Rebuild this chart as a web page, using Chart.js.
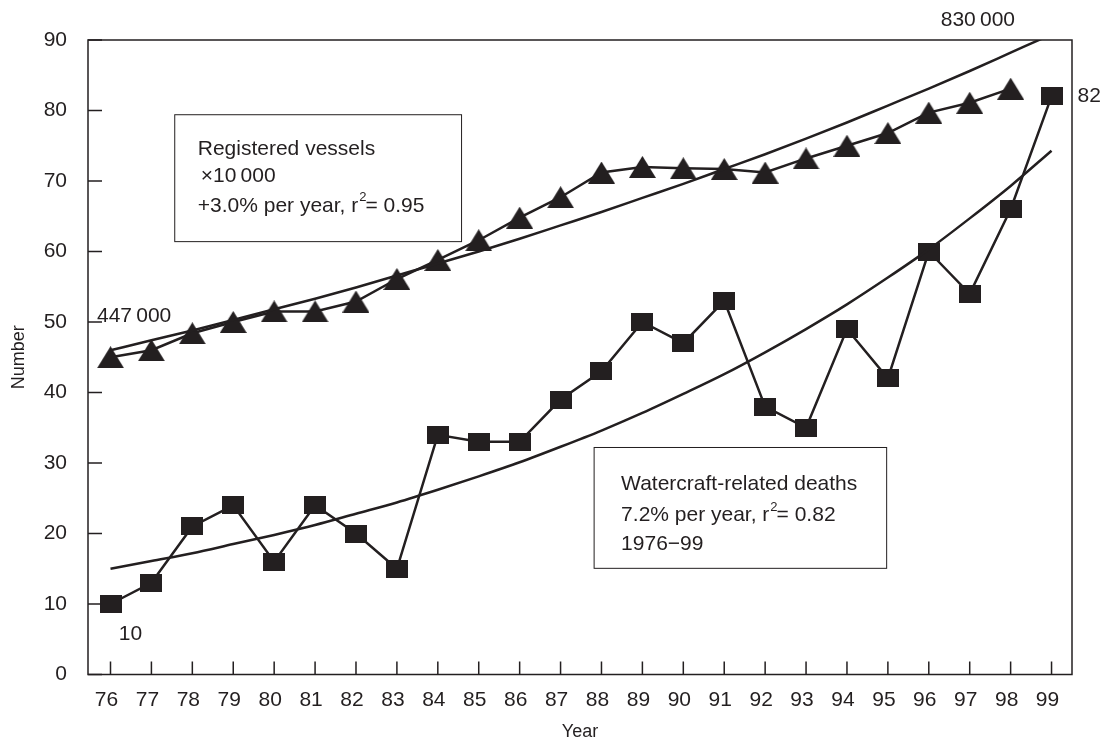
<!DOCTYPE html>
<html>
<head>
<meta charset="utf-8">
<script src="https://cdn.jsdelivr.net/npm/chart.js@4.4.1/dist/chart.umd.min.js"></script>
<style>
  html, body { margin: 0; padding: 0; background: #fff; }
  #wrap { width: 1105px; height: 746px; }
</style>
</head>
<body>
<div id="wrap"><canvas id="myChart" width="1105" height="746"></canvas></div>
<script>
// Define the data
var years = [76, 77, 78, 79, 80, 81, 82, 83, 84, 85, 86, 87, 88, 89, 90, 91, 92, 93, 94, 95, 96, 97, 98, 99];
// registered vessels x10 000, 1976-98
var vessels = [45.0, 46.0, 48.4, 50.0, 51.5, 51.5, 52.9, 56.1, 58.8, 61.6, 64.8, 67.7, 71.2, 72.0, 71.8, 71.7, 71.2, 73.2, 75.0, 76.8, 79.7, 81.1, 83.1];
// fitted curve for vessels (+3.0% per year)
var vesselsTrend = [46.0, 47.4, 48.8, 50.3, 51.8, 53.3, 54.9, 56.6, 58.3, 60.0, 61.8, 63.7, 65.6, 67.6, 69.6, 71.7, 73.8, 76.0, 78.3, 80.7, 83.1, 85.6, 88.2, 90.8];
// watercraft-related deaths, 1976-99
var deaths = [10, 13, 21, 24, 16, 24, 20, 15, 34, 33, 33, 39, 43, 50, 47, 53, 38, 35, 49, 42, 60, 54, 66, 82];
// fitted curve for deaths (7.2% per year)
var deathsTrend = [15.0, 16.1, 17.2, 18.5, 19.8, 21.2, 22.8, 24.4, 26.2, 28.1, 30.1, 32.3, 34.6, 37.1, 39.8, 42.6, 45.7, 49.0, 52.5, 56.3, 60.3, 64.7, 69.3, 74.3];
var yTicks = [0, 10, 20, 30, 40, 50, 60, 70, 80, 90];
// End Defining data

var ink = '#231f20';
var fontName = '"Liberation Sans", Arial, Helvetica, sans-serif';

function pairs(xs, ys) {
  return ys.map(function(v, i) { return {x: xs[i], y: v}; });
}

// black marker images (a bit wider than tall, like the print)
function marker(kind) {
  var c = document.createElement('canvas');
  if (kind == 'tri') { c.width = 27; c.height = 22; } else { c.width = 22; c.height = 18; }
  var g = c.getContext('2d');
  g.fillStyle = ink;
  if (kind == 'tri') {
    g.beginPath();
    g.moveTo(13.5, 0); g.lineTo(27, 22); g.lineTo(0, 22);
    g.closePath(); g.fill();
  } else {
    g.fillRect(0, 0, 22, 18);
  }
  return c;
}

// text with a superscript piece: before + sup + after
function supText(ctx, x, y, before, sup, after, size) {
  ctx.font = size + 'px ' + fontName;
  ctx.fillText(before, x, y);
  x += ctx.measureText(before).width + 1;
  ctx.font = Math.round(size * 0.62) + 'px ' + fontName;
  ctx.fillText(sup, x, y - size * 0.5);
  x += ctx.measureText(sup).width - 1;
  ctx.font = size + 'px ' + fontName;
  ctx.fillText(after, x, y);
}

var notes = {
  id: 'notes',
  afterDatasetsDraw: function(chart) {
    var ctx = chart.ctx, xs = chart.scales.x, ys = chart.scales.y, a = chart.chartArea;
    ctx.save();
    ctx.strokeStyle = ink;
    ctx.fillStyle = ink;

    // frame round the plot
    ctx.lineWidth = 1.5;
    ctx.strokeRect(a.left, a.top, a.right - a.left, a.bottom - a.top);

    // inward tick marks
    ctx.beginPath();
    yTicks.forEach(function(v) {
      var py = ys.getPixelForValue(v);
      ctx.moveTo(a.left, py); ctx.lineTo(a.left + 14, py);
    });
    years.forEach(function(v) {
      var px = xs.getPixelForValue(v);
      ctx.moveTo(px, a.bottom); ctx.lineTo(px, a.bottom - 13);
    });
    ctx.stroke();

    // legend boxes
    ctx.lineWidth = 1;
    var b1 = {l: xs.getPixelForValue(77.57), r: xs.getPixelForValue(84.58), t: ys.getPixelForValue(79.4), b: ys.getPixelForValue(61.4)};
    ctx.strokeRect(b1.l, b1.t, b1.r - b1.l, b1.b - b1.t);
    var b2 = {l: xs.getPixelForValue(87.82), r: xs.getPixelForValue(94.97), t: ys.getPixelForValue(32.2), b: ys.getPixelForValue(15.06)};
    ctx.strokeRect(b2.l, b2.t, b2.r - b2.l, b2.b - b2.t);

    var fs = 21;
    ctx.textAlign = 'left';
    ctx.textBaseline = 'alphabetic';
    ctx.font = fs + 'px ' + fontName;
    ctx.fillText('Registered vessels', b1.l + 23, b1.t + 40);
    ctx.fillText('\u00d710\u2009000', b1.l + 26, b1.t + 67);
    supText(ctx, b1.l + 23, b1.t + 97, '+3.0% per year, r', '2', '= 0.95', fs);

    ctx.font = fs + 'px ' + fontName;
    ctx.fillText('Watercraft-related deaths', b2.l + 27, b2.t + 43);
    supText(ctx, b2.l + 27, b2.t + 74, '7.2% per year, r', '2', '= 0.82', fs);
    ctx.font = fs + 'px ' + fontName;
    ctx.fillText('1976\u221299', b2.l + 27, b2.t + 103);

    // end labels
    ctx.font = fs + 'px ' + fontName;
    ctx.textAlign = 'center';
    ctx.fillText('830\u2009000', xs.getPixelForValue(97.2), a.top - 14);
    ctx.textAlign = 'left';
    ctx.textBaseline = 'middle';
    ctx.fillText('82', xs.getPixelForValue(99) + 26, ys.getPixelForValue(82));
    ctx.textBaseline = 'alphabetic';
    ctx.fillText('447\u2009000', a.left + 9, ys.getPixelForValue(50.2) + 1);
    ctx.textAlign = 'center';
    ctx.fillText('10', xs.getPixelForValue(76) + 20, ys.getPixelForValue(10) + 36);
    ctx.restore();
  }
};

var ctx = document.getElementById('myChart').getContext('2d');

var myChart = new Chart(ctx, {
  type: 'line',
  data: {
    datasets: [{
      label: 'Vessels trend',
      data: pairs(years, vesselsTrend),
      borderColor: ink,
      borderWidth: 2.5,
      pointRadius: 0,
      cubicInterpolationMode: 'monotone'
    }, {
      label: 'Deaths trend',
      data: pairs(years, deathsTrend),
      borderColor: ink,
      borderWidth: 2.5,
      pointRadius: 0,
      cubicInterpolationMode: 'monotone'
    }, {
      label: 'Registered vessels',
      data: pairs(years, vessels),
      borderColor: ink,
      borderWidth: 2.5,
      pointStyle: marker('tri'),
      pointRadius: 12
    }, {
      label: 'Watercraft-related deaths',
      data: pairs(years, deaths),
      borderColor: ink,
      borderWidth: 2.5,
      pointStyle: marker('sq'),
      pointRadius: 12
    }]
  },
  options: {
    responsive: false,
    animation: false,
    events: [],
    layout: { padding: { top: 40, right: 33, left: 0, bottom: 0 } },
    plugins: { legend: { display: false }, tooltip: { enabled: false } },
    scales: {
      x: {
        type: 'linear',
        min: 75.45,
        max: 99.5,
        afterBuildTicks: function(scale) {
          scale.ticks = years.map(function(v) { return {value: v}; });
        },
        afterFit: function(scale) { scale.height = 71.5; },
        grid: { display: false, drawTicks: false },
        border: { display: false },
        ticks: {
          autoSkip: false,
          maxRotation: 0,
          padding: 13,
          labelOffset: -4,
          color: ink,
          font: { family: fontName, size: 21 }
        },
        title: {
          display: true,
          text: 'Year',
          color: ink,
          padding: { top: 0, bottom: 3 },
          font: { family: fontName, size: 18 }
        }
      },
      y: {
        min: 0,
        max: 90,
        afterBuildTicks: function(scale) {
          scale.ticks = yTicks.map(function(v) { return {value: v}; });
        },
        afterFit: function(scale) { scale.width = 88; },
        grid: { display: false, drawTicks: false },
        border: { display: false },
        ticks: {
          padding: 21,
          color: ink,
          font: { family: fontName, size: 21 }
        },
        title: {
          display: true,
          text: 'Number',
          color: ink,
          padding: { top: 8, bottom: 0 },
          font: { family: fontName, size: 18 }
        }
      }
    }
  },
  plugins: [notes]
});
</script>
</body>
</html>
